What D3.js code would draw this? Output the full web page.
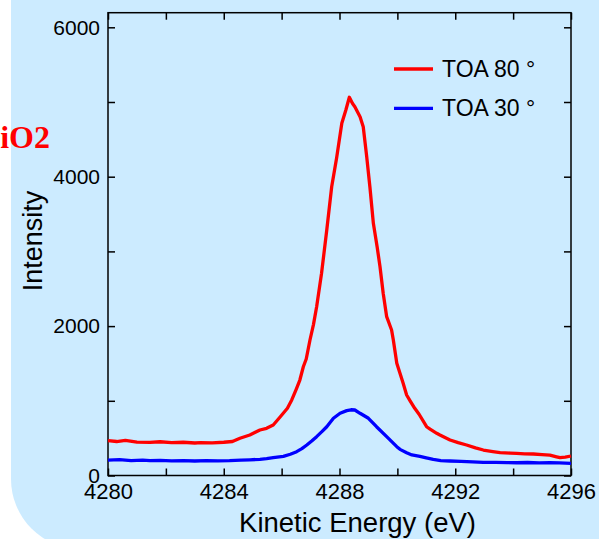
<!DOCTYPE html>
<html>
<head>
<meta charset="utf-8">
<script src="https://cdn.jsdelivr.net/npm/d3@7"></script>
<style>
  body { margin: 0; background: #ffffff; }
  svg { display: block; }
</style>
</head>
<body>
<div id="graph"></div>
<script>
// data
var energy80 = [4280.0, 4280.3, 4280.6, 4281.0, 4281.45, 4281.8, 4282.2, 4282.6, 4283.0, 4283.2,
  4283.6, 4284.0, 4284.3, 4284.56, 4284.9, 4285.25, 4285.48, 4285.71, 4285.94, 4286.2,
  4286.35, 4286.5, 4286.63, 4286.75, 4286.85, 4286.98, 4287.1, 4287.21, 4287.38, 4287.56,
  4287.73, 4287.9, 4288.08, 4288.22, 4288.34, 4288.45, 4288.53, 4288.71, 4288.82, 4288.94,
  4289.05, 4289.17, 4289.3, 4289.4, 4289.51, 4289.63, 4289.8, 4289.86, 4289.98, 4290.09,
  4290.2, 4290.32, 4290.44, 4290.6, 4290.75, 4291.01, 4291.13, 4291.36, 4291.47, 4291.82,
  4292.1, 4292.39, 4292.7, 4292.97, 4293.3, 4293.55, 4293.9, 4294.12, 4294.4, 4294.7,
  4295.0, 4295.27, 4295.5, 4295.62, 4295.8, 4296.0];
var toa80 = [466, 455, 470, 448, 444, 452, 440, 445, 435, 439,
  438, 445, 455, 498, 542, 609, 632, 676, 780, 900,
  1011, 1150, 1278, 1456, 1560, 1814, 2020, 2260, 2707, 3286,
  3866, 4250, 4715, 4893, 5063, 4980, 4937, 4803, 4669, 4268,
  3866, 3376, 3063, 2795, 2439, 2126, 1948, 1814, 1502, 1368,
  1234, 1078, 1000, 900, 820, 653, 620, 565, 542, 475,
  440, 408, 370, 341, 320, 305, 300, 297, 290, 288,
  280, 274, 250, 238, 245, 261];

var energy30 = [4280.0, 4280.4, 4280.8, 4281.2, 4281.45, 4281.8, 4282.2, 4282.6, 4283.0, 4283.4,
  4283.8, 4284.2, 4284.6, 4284.9, 4285.25, 4285.48, 4285.71, 4286.06, 4286.3, 4286.52,
  4286.7, 4286.87, 4287.05, 4287.21, 4287.4, 4287.56, 4287.79, 4288.02, 4288.25, 4288.4,
  4288.53, 4288.71, 4289.0, 4289.28, 4289.63, 4289.98, 4290.09, 4290.32, 4290.5, 4290.78,
  4291.0, 4291.24, 4291.5, 4291.82, 4292.2, 4292.6, 4292.97, 4293.4, 4293.8, 4294.12,
  4294.5, 4294.9, 4295.27, 4295.6, 4296.0];
var toa30 = [207, 212, 200, 205, 198, 203, 196, 200, 194, 199,
  196, 198, 205, 210, 217, 225, 238, 256, 285, 319,
  360, 408, 465, 520, 590, 653, 766, 833, 868, 880,
  877, 833, 766, 653, 520, 386, 350, 305, 275, 255,
  235, 215, 200, 194, 190, 182, 177, 175, 172, 171,
  174, 170, 171, 168, 163];

var seriesNames = ['TOA 80 \u00b0', 'TOA 30 \u00b0'];
var seriesColors = ['#ff0000', '#0000ff'];
var xTicks = [4280, 4282, 4284, 4286, 4288, 4290, 4292, 4294, 4296];
var yTicks = [0, 1000, 2000, 3000, 4000, 5000, 6000];

// global variables
var chart_width = 599;
var chart_height = 539;
var plot = { left: 108, right: 571, top: 12.7, bottom: 475.5 };
var font = '"Liberation Sans", Arial, sans-serif';

var svg = d3
  .select('#graph')
  .append('svg')
  .attr('width', chart_width)
  .attr('height', chart_height);

// light blue panel with rounded bottom-left corner
svg
  .append('rect')
  .attr('x', 11)
  .attr('y', -200)
  .attr('width', 800)
  .attr('height', 749)
  .attr('rx', 70)
  .attr('fill', '#ccebff');

var x_scale = d3
  .scaleLinear()
  .domain([4280, 4296])
  .range([plot.left, plot.right]);

var y_scale = d3
  .scaleLinear()
  .domain([0, 6000])
  .range([plot.bottom, plot.bottom - 3 * 149.4]);

// axes, ticks pointing inward
var x_axis = d3.axisBottom(x_scale)
  .tickValues(xTicks)
  .tickFormat(function(d) { return d % 4 === 0 ? d : ''; })
  .tickSizeInner(-7)
  .tickSizeOuter(0)
  .tickPadding(8);

var y_axis = d3.axisLeft(y_scale)
  .tickValues(yTicks)
  .tickFormat(function(d) { return d % 2000 === 0 ? d : ''; })
  .tickSizeInner(-7)
  .tickSizeOuter(0)
  .tickPadding(8);

var xTop = d3.axisTop(x_scale).tickValues(xTicks).tickFormat('').tickSizeInner(-7).tickSizeOuter(0);
var yRight = d3.axisRight(y_scale).tickValues(yTicks).tickFormat('').tickSizeInner(-7).tickSizeOuter(0);

var gx = svg.append('g')
  .attr('transform', 'translate(0,' + plot.bottom + ')')
  .call(x_axis);
var gy = svg.append('g')
  .attr('transform', 'translate(' + plot.left + ',0)')
  .call(y_axis);
svg.append('g')
  .attr('transform', 'translate(0,' + plot.top + ')')
  .call(xTop);
svg.append('g')
  .attr('transform', 'translate(' + plot.right + ',0)')
  .call(yRight);

svg.selectAll('.domain').remove();
svg.selectAll('.tick line').attr('stroke', '#000').attr('stroke-width', 1.5);

gx.selectAll('text')
  .attr('font-family', font)
  .attr('font-size', 22)
  .attr('fill', '#000');
gy.selectAll('text')
  .attr('font-family', font)
  .attr('font-size', 21)
  .attr('fill', '#000');

// frame
svg.append('rect')
  .attr('x', plot.left)
  .attr('y', plot.top)
  .attr('width', plot.right - plot.left)
  .attr('height', plot.bottom - plot.top)
  .attr('fill', 'none')
  .attr('stroke', '#000')
  .attr('stroke-width', 1.5);

// lines
var line = d3.line()
  .x(function(d) { return x_scale(d[0]); })
  .y(function(d) { return y_scale(d[1]); });

var series = [
  d3.zip(energy80, toa80),
  d3.zip(energy30, toa30)
];

svg.selectAll('.series')
  .data(series)
  .enter()
  .append('path')
  .attr('class', 'series')
  .attr('fill', 'none')
  .attr('stroke', function(d, i) { return seriesColors[i]; })
  .attr('stroke-width', 3.3)
  .attr('stroke-linejoin', 'round')
  .attr('d', line);

// legend
var legend = svg.selectAll('.legend')
  .data(seriesNames)
  .enter()
  .append('g')
  .attr('class', 'legend')
  .attr('transform', function(d, i) { return 'translate(394,' + (69 + i * 39.3) + ')'; });

legend.append('line')
  .attr('x1', 0)
  .attr('x2', 39)
  .attr('stroke', function(d, i) { return seriesColors[i]; })
  .attr('stroke-width', 3.3);

legend.append('text')
  .attr('x', 48)
  .attr('y', 8)
  .attr('font-family', font)
  .attr('font-size', 23)
  .attr('fill', '#000')
  .text(function(d) { return d; });

// axis titles
svg.append('text')
  .attr('x', 357.5)
  .attr('y', 532)
  .attr('text-anchor', 'middle')
  .attr('font-family', font)
  .attr('font-size', 27.5)
  .attr('fill', '#000')
  .text('Kinetic Energy (eV)');

svg.append('text')
  .attr('transform', 'translate(42,241) rotate(-90)')
  .attr('text-anchor', 'middle')
  .attr('font-family', font)
  .attr('font-size', 27)
  .attr('fill', '#000')
  .text('Intensity');

// sample label, partly cut off on the left
svg.append('text')
  .attr('x', 50)
  .attr('y', 148)
  .attr('text-anchor', 'end')
  .attr('font-family', '"Liberation Serif", "Times New Roman", serif')
  .attr('font-weight', 'bold')
  .attr('font-size', 32)
  .attr('fill', '#ff0000')
  .text('SiO2');
</script>
</body>
</html>
